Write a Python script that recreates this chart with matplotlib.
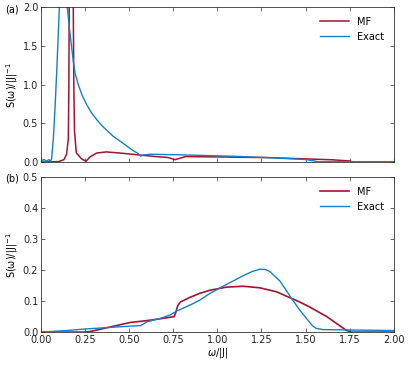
import numpy as np
import matplotlib.pyplot as plt

# ---- data ----
# panel (a)
w_exact_a = [0.00, 0.02, 0.03, 0.045, 0.055, 0.06, 0.07, 0.08, 0.089, 0.097, 0.104, 0.115,
             0.13, 0.14, 0.149, 0.16, 0.17, 0.183, 0.193, 0.211, 0.235, 0.259, 0.285,
             0.315, 0.345, 0.372, 0.41, 0.448, 0.49, 0.52, 0.55, 0.565, 0.58, 0.618,
             0.8, 1.09, 1.3, 1.505, 1.55, 1.57, 1.6, 2.0]
s_exact_a = [0.02, 0.03, 0.01, 0.03, 0.01, 0.04, 0.30, 0.72, 1.16, 1.60, 2.00, 2.60,
             2.90, 2.60, 2.00, 1.75, 1.55, 1.30, 1.15, 1.00, 0.85, 0.74, 0.64,
             0.55, 0.47, 0.41, 0.33, 0.27, 0.20, 0.15, 0.11, 0.075, 0.09, 0.10,
             0.092, 0.074, 0.055, 0.031, 0.012, 0.003, 0.003, 0.003]

w_mf_a = [0.00, 0.10, 0.13, 0.145, 0.155, 0.158, 0.16, 0.171, 0.183, 0.186, 0.19, 0.2,
          0.23, 0.255, 0.278, 0.315, 0.37, 0.45, 0.56, 0.65, 0.72, 0.76, 0.82, 1.0,
          1.28, 1.5, 1.655, 1.75, 1.77, 2.0]
s_mf_a = [0.00, 0.005, 0.03, 0.10, 0.30, 1.00, 2.00, 5.00, 2.00, 1.00, 0.40, 0.12,
          0.04, 0.01, 0.065, 0.115, 0.13, 0.115, 0.09, 0.07, 0.058, 0.03, 0.07, 0.065,
          0.057, 0.04, 0.028, 0.013, 0.0, 0.0]

# panel (b)
w_exact_b = [0.00, 0.145, 0.25, 0.5, 0.565, 0.6, 0.68, 0.731, 0.77, 0.844, 0.9, 0.958,
             1.0, 1.052, 1.1, 1.146, 1.2, 1.241, 1.27, 1.297, 1.33, 1.354, 1.39, 1.42,
             1.467, 1.505, 1.54, 1.56, 1.6, 2.0]
s_exact_b = [0.000, 0.005, 0.010, 0.019, 0.021, 0.033, 0.045, 0.055, 0.068, 0.087, 0.103, 0.125,
             0.138, 0.154, 0.168, 0.182, 0.196, 0.203, 0.202, 0.196, 0.178, 0.165, 0.135, 0.109,
             0.071, 0.044, 0.020, 0.012, 0.008, 0.005]

w_mf_b = [0.00, 0.25, 0.28, 0.505, 0.6, 0.7, 0.755, 0.765, 0.775, 0.79, 0.844, 0.9,
          0.958, 1.05, 1.146, 1.24, 1.335, 1.42, 1.467, 1.52, 1.62, 1.73, 1.76, 2.0]
s_mf_b = [0.000, 0.000, 0.002, 0.031, 0.037, 0.045, 0.050, 0.065, 0.085, 0.097, 0.112, 0.125,
          0.135, 0.145, 0.148, 0.143, 0.130, 0.109, 0.097, 0.082, 0.050, 0.006, 0.000, 0.000]

xticks = [0.00, 0.25, 0.50, 0.75, 1.00, 1.25, 1.50, 1.75, 2.00]
xticklabels = ["0.00", "0.25", "0.50", "0.75", "1.00", "1.25", "1.50", "1.75", "2.00"]

c_mf = "#A2142F"
c_exact = "#1280c8"

plt.rcParams["font.size"] = 7
plt.rcParams["axes.linewidth"] = 0.6
plt.rcParams["axes.edgecolor"] = "#333333"

fig = plt.figure(figsize=(4.15, 3.69), dpi=100)
ax_a = fig.add_axes([0.0988, 0.561, 0.850, 0.420])
ax_b = fig.add_axes([0.0988, 0.100, 0.850, 0.420])

ax_a.plot(w_mf_a, s_mf_a, color=c_mf, lw=1.1, label="MF")
ax_a.plot(w_exact_a, s_exact_a, color=c_exact, lw=1.0, label="Exact")
ax_b.plot(w_mf_b, s_mf_b, color=c_mf, lw=1.2, label="MF")
ax_b.plot(w_exact_b, s_exact_b, color=c_exact, lw=1.0, label="Exact")

ax_a.set_ylim(0, 2.0)
ax_a.set_yticks([0.0, 0.5, 1.0, 1.5, 2.0])
ax_b.set_ylim(0, 0.5)
ax_b.set_yticks([0.0, 0.1, 0.2, 0.3, 0.4, 0.5])

for ax in (ax_a, ax_b):
    ax.set_xlim(0, 2.0)
    ax.set_xticks(xticks)
    ax.tick_params(direction="in", top=True, right=True, length=3, width=0.5,
                   labelsize=7, colors="#333333", labelcolor="#222222", pad=2)
    ax.set_ylabel("S(ω)/|J|$^{-1}$", fontsize=7, labelpad=2)
    ax.legend(loc="upper right", frameon=False, fontsize=7, handlelength=3.0,
              handletextpad=0.8, borderaxespad=0.6)

ax_a.set_xticklabels([])
ax_b.set_xticklabels(xticklabels)
ax_b.set_xlabel(r"$\omega$/|J|", fontsize=7, labelpad=1)

fig.text(0.012, 0.975, "(a)", fontsize=7, va="center")
fig.text(0.012, 0.515, "(b)", fontsize=7, va="center")

fig.savefig("out.png", dpi=100)
